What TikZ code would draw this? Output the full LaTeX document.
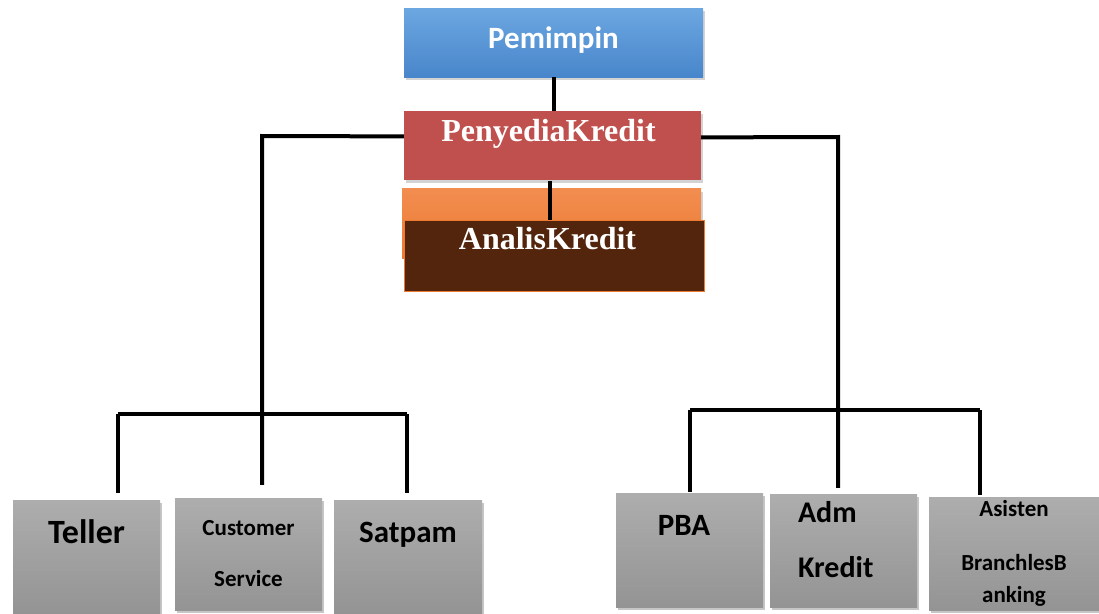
\documentclass[tikz,border=0pt]{standalone}
\usepackage{fontspec}
\setmainfont{Carlito}
\newfontfamily\kreditfont{Liberation Serif}
\usetikzlibrary{positioning,shadows}
\definecolor{pemtop}{HTML}{6CA7E1}
\definecolor{pembot}{HTML}{4886CB}
\definecolor{penyred}{HTML}{C0504D}
\definecolor{orgtop}{HTML}{F28D50}
\definecolor{orgbot}{HTML}{EC7A32}
\definecolor{analisbrown}{HTML}{52250C}
\tikzset{
    unit/.style={rectangle, align=center, text=white,
        drop shadow={opacity=0.35, shadow xshift=2pt, shadow yshift=-3pt}},
    staff/.style={
        rectangle, align=center, text=black,
        top color=black!32, bottom color=black!42,
        minimum width=147pt, minimum height=113pt,
        drop shadow={opacity=0.45, shadow xshift=2pt, shadow yshift=-3pt}
    },
    link/.style={line width=4pt, black}
}

\begin{document}
\begin{tikzpicture}[
    x=1pt, y=-1pt,
    bigname/.style={font=\bfseries\fontsize{31}{38}\selectfont},
    smallname/.style={font=\bfseries\fontsize{23}{32}\selectfont},
]
\useasboundingbox (0,0) rectangle (1099,613);

% ============ Top ============

\node[unit, top color=pemtop, bottom color=pembot,
    minimum width=299pt, minimum height=69pt,
    font=\bfseries\fontsize{31}{38}\selectfont,
    text height=20pt, text depth=9pt] (pem) at (553.5,42.5) {Pemimpin};

\node[unit, fill=penyred, minimum width=297pt, minimum height=69pt,
    font=\kreditfont\bfseries\fontsize{32}{38}\selectfont,
    text height=22pt, text depth=31pt, below=34pt of pem, xshift=-1pt] (peny)
    {PenyediaKredit\hspace*{8pt}};

\node[unit, top color=orgtop, bottom color=orgbot,
    minimum width=299pt, minimum height=70pt,
    below=8pt of peny, xshift=-1pt] (analisbg) {};
\node[rectangle, fill=analisbrown, draw=orgbot, line width=1.5pt, text=white,
    minimum width=300pt, minimum height=71pt,
    font=\kreditfont\bfseries\fontsize{32}{38}\selectfont,
    text height=22pt, text depth=36pt] (analis) at (554.5,256)
    {AnalisKredit\hspace*{14pt}};

% ============ Bottom ============

\node[staff, font=\bfseries\fontsize{34}{40}\selectfont,
    text height=22pt, text depth=49pt] (teller) at (86.5,556.5) {Teller};
\node[staff, smallname, minimum height=112pt] (cs) at (248.5,554)
    {Customer\\[19pt]Service};
\node[staff, bigname, minimum width=148pt, text height=21pt, text depth=49pt] (satpam)
    at (408,556.5) {Satpam};

\node[staff, bigname, minimum height=114pt, text height=21pt, text depth=50pt] (pba)
    at (689.5,550) {PBA\hspace*{11pt}};
\node[staff, align=left, text width=91pt, inner xsep=0pt,
    font=\bfseries\fontsize{30}{38}\selectfont] (adm)
    at (843.5,550.5) {Adm\\[17pt]Kredit\\[-16pt]\mbox{}};
\node[staff, smallname, minimum width=170pt] (asis) at (1014,553.5)
    {Asisten\\[22pt]BranchlesB\\anking};

% ============ Lines ============

\coordinate (lknee) at (262,136);
\coordinate (lbarW) at (118,414);
\coordinate (lbarE) at (407,414);
\coordinate (rknee) at (838,137);
\coordinate (rbarW) at (690,410);
\coordinate (rbarE) at (980,410);

\draw[link] (pem.south) -- (pem.south |- peny.north);
\draw[link] ([xshift=-3pt]peny.south) -- ([xshift=-3pt]peny.south |- analis.north);

\draw[link] ([yshift=9.5pt]peny.west) -- (lknee) -- ([yshift=13pt]cs.north -| lknee);
\draw[link] (lbarW) -- (lbarE);
\draw[link] (lbarW) -- ([yshift=7pt]teller.north -| lbarW);
\draw[link] (lbarE) -- ([yshift=7pt]satpam.north -| lbarE);

\draw[link] ([yshift=8.5pt]peny.east) -- (rknee) -- ([yshift=6pt]adm.north -| rknee);
\draw[link] (rbarW) -- (rbarE);
\draw[link] (rbarW) -- ([yshift=1pt]pba.north -| rbarW);
\draw[link] (rbarE) -- ([yshift=2pt]asis.north -| rbarE);

\end{tikzpicture}
\end{document}
